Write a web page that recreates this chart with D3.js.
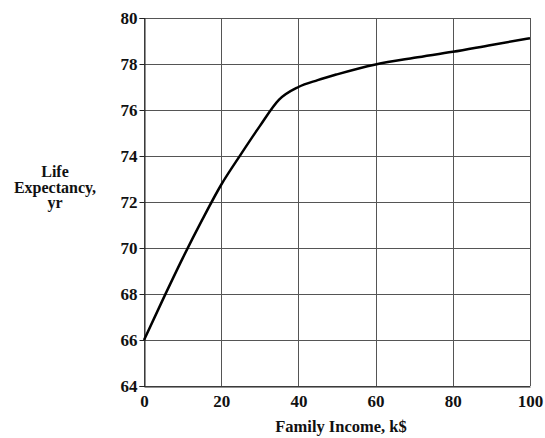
<!DOCTYPE html>
<html>
<head>
<meta charset="utf-8">
<script src="https://cdn.jsdelivr.net/npm/d3@7"></script>
<style>
  body { margin: 0; background: #fff; }
  text { font-family: "Liberation Serif", "Times New Roman", serif; font-weight: bold; fill: #111; }
</style>
</head>
<body>
<div class="chart"></div>
<script>
var income = [0, 5, 10, 15, 20, 25, 30, 35, 40, 45, 50, 60, 70, 80, 90, 100]
var lifeExp = [66, 67.8, 69.55, 71.2, 72.75, 74.05, 75.3, 76.45, 77.0, 77.3, 77.55, 77.98, 78.27, 78.53, 78.83, 79.12]
var xTicks = [0, 20, 40, 60, 80, 100]
var yTicks = [64, 66, 68, 70, 72, 74, 76, 78, 80]
var yTitle = ['Life', 'Expectancy,', 'yr']
var xTitle = 'Family Income, k$'

var width = 545
var height = 438
var margin = { top: 18, right: 15, bottom: 52, left: 144 }

var svg = d3.select('.chart')
  .append('svg')
  .attr('width', width)
  .attr('height', height)

var x = d3.scaleLinear().domain([0, 100]).range([margin.left, width - margin.right])
var y = d3.scaleLinear().domain([64, 80]).range([height - margin.bottom, margin.top])

// grid
svg.selectAll('.hgrid')
  .data(yTicks)
  .enter()
  .append('line')
  .attr('x1', x(0))
  .attr('x2', x(100))
  .attr('y1', function (d) { return Math.round(y(d)) + 0.5 })
  .attr('y2', function (d) { return Math.round(y(d)) + 0.5 })
  .attr('stroke', '#555')
  .attr('stroke-width', 1)

svg.selectAll('.vgrid')
  .data(xTicks)
  .enter()
  .append('line')
  .attr('y1', y(64))
  .attr('y2', y(80))
  .attr('x1', function (d) { return Math.round(x(d)) + 0.5 })
  .attr('x2', function (d) { return Math.round(x(d)) + 0.5 })
  .attr('stroke', '#555')
  .attr('stroke-width', 1)

// y axis
var yAxis = svg.append('g')
  .attr('transform', 'translate(' + (Math.round(x(0)) + 0.5) + ',0)')
  .call(d3.axisLeft(y).tickValues(yTicks).tickSize(5).tickPadding(2))
yAxis.select('.domain').attr('stroke', '#222')
yAxis.selectAll('.tick line').attr('stroke', '#222')
yAxis.selectAll('.tick text')
  .attr('font-size', '17px')
  .attr('font-family', '"Liberation Serif", serif')
  .attr('font-weight', 'bold')
  .attr('fill', '#111')

// x axis
var xAxis = svg.append('g')
  .attr('transform', 'translate(0,' + (Math.round(y(64)) + 0.5) + ')')
  .call(d3.axisBottom(x).tickValues(xTicks).tickSize(0).tickPadding(8))
xAxis.select('.domain').attr('stroke', '#222')
xAxis.selectAll('.tick text')
  .attr('font-size', '17px')
  .attr('font-family', '"Liberation Serif", serif')
  .attr('font-weight', 'bold')
  .attr('fill', '#111')

// curve
var line = d3.line()
  .x(function (d, i) { return x(income[i]) })
  .y(function (d) { return y(d) })
  .curve(d3.curveMonotoneX)

svg.append('path')
  .datum(lifeExp)
  .attr('d', line)
  .attr('fill', 'none')
  .attr('stroke', '#000')
  .attr('stroke-width', 2.5)

// titles
svg.append('text')
  .attr('x', (x(0) + x(100)) / 2 + 4)
  .attr('y', 432)
  .attr('text-anchor', 'middle')
  .attr('font-size', '16.5px')
  .text(xTitle)

svg.selectAll('.ytitle')
  .data(yTitle)
  .enter()
  .append('text')
  .attr('x', 55)
  .attr('y', function (d, i) { return 177 + i * 15.5 })
  .attr('text-anchor', 'middle')
  .attr('font-size', '16px')
  .text(function (d) { return d })
</script>
</body>
</html>
